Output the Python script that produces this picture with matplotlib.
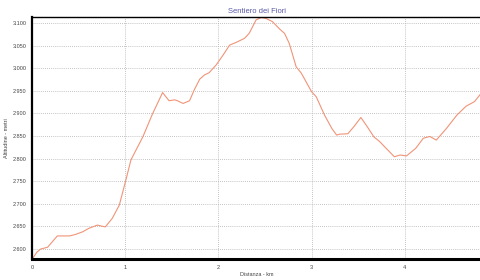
import numpy as np
import matplotlib
matplotlib.use("Agg")
import matplotlib.pyplot as plt
from matplotlib.ticker import FuncFormatter, MultipleLocator

# Profilo altimetrico (km, metri)
distanza = [0.0, 0.05, 0.09, 0.165, 0.27, 0.40, 0.46, 0.54, 0.61, 0.70, 0.74, 0.785,
            0.86, 0.935, 1.01, 1.06, 1.19, 1.29, 1.40, 1.47, 1.53, 1.56, 1.62,
            1.69, 1.74, 1.80, 1.85, 1.90, 1.975, 2.05, 2.12, 2.19, 2.28, 2.33, 2.405,
            2.46, 2.51, 2.58, 2.66, 2.71, 2.76, 2.835, 2.89, 3.0, 3.05, 3.14, 3.22,
            3.27, 3.30, 3.39, 3.46, 3.53, 3.60, 3.67, 3.73, 3.80, 3.89, 3.95, 4.02,
            4.12, 4.20, 4.27, 4.34, 4.45, 4.56, 4.66, 4.75, 4.82]
altitudine = [2578, 2593, 2600, 2604, 2629, 2629, 2632, 2638, 2646, 2653, 2651, 2649,
              2668, 2697, 2756, 2797, 2849, 2898, 2946, 2928, 2930, 2928, 2922,
              2928, 2952, 2976, 2985, 2990, 3007, 3029, 3051, 3057, 3066, 3077, 3107,
              3112, 3110, 3103, 3086, 3077, 3055, 3003, 2989, 2948, 2937, 2896, 2866,
              2852, 2854, 2855, 2872, 2891, 2870, 2848, 2838, 2823, 2804, 2808, 2806,
              2823, 2845, 2849, 2841, 2867, 2896, 2916, 2926, 2944]

plt.rcParams['font.family'] = ['Liberation Sans Narrow', 'Liberation Sans', 'DejaVu Sans']

fig = plt.figure(figsize=(4.81, 2.80), dpi=100)
ax = fig.add_axes([0.067, 0.075, 0.933, 0.864])

ax.plot(distanza, altitudine, color='#f09478', linewidth=0.8)

ax.set_xlim(0, 4.82)
ax.set_ylim(2578, 3113)
ax.xaxis.set_major_locator(MultipleLocator(1))
ax.yaxis.set_major_locator(MultipleLocator(50))
ax.yaxis.set_major_formatter(FuncFormatter(lambda v, p: f"{int(v):,}".replace(",", ".")))
ax.tick_params(length=0, labelsize=4, colors='#444444', pad=4)

ax.grid(True, color='#b0b0b0', linestyle=(0, (1, 1.5)), linewidth=0.6)

ax.spines['right'].set_visible(False)
ax.spines['top'].set_linewidth(1.0)
ax.spines['left'].set_linewidth(1.6)
ax.spines['bottom'].set_linewidth(2.2)

ax.set_title('Sentiero dei Fiori', fontsize=5.5, color='#5a5aa8', pad=3)
ax.set_xlabel('Distanza - km', fontsize=4, color='#444444', labelpad=2)
ax.set_ylabel('Altitudine - metri', fontsize=4, color='#444444', labelpad=3)

fig.savefig('out.png', dpi=100)
